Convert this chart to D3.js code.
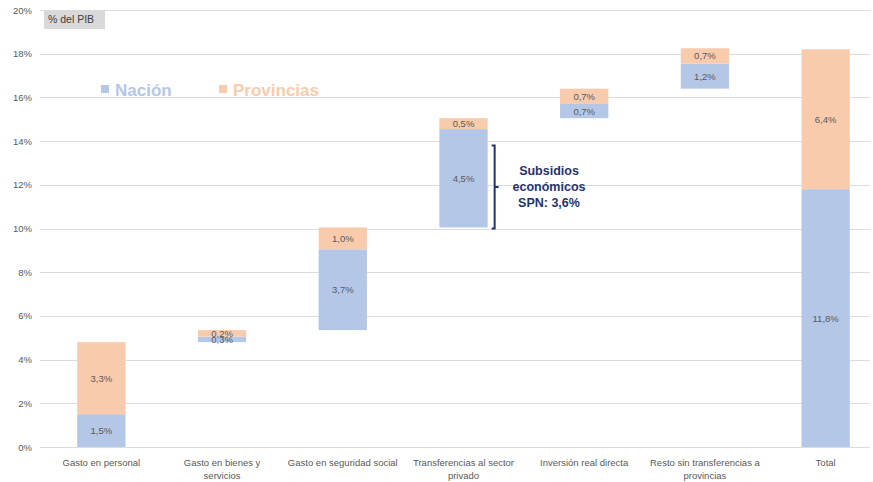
<!DOCTYPE html>
<html>
<head>
<meta charset="utf-8">
<script src="https://cdn.jsdelivr.net/npm/d3@7"></script>
<style>
  body { margin: 0; background: #fff; }
  text { font-family: "Liberation Sans", Arial, sans-serif; }
</style>
</head>
<body>
<svg id="chart" width="873" height="482"></svg>
<script>
// categories, tick lines and series values (% del PIB)
var categories = ["Gasto en personal", "Gasto en bienes y servicios", "Gasto en seguridad social",
  "Transferencias al sector privado", "Inversión real directa",
  "Resto sin transferencias a provincias", "Total"];
var categoryLines = [["Gasto en personal"], ["Gasto en bienes y", "servicios"], ["Gasto en seguridad social"],
  ["Transferencias al sector", "privado"], ["Inversión real directa"],
  ["Resto sin transferencias a", "provincias"], ["Total"]];
var nacion = [1.5, 0.25, 3.7, 4.5, 0.65, 1.15, 11.8];
var provincias = [3.3, 0.3, 1.0, 0.5, 0.7, 0.7, 6.4];
var nacionLabels = ["1,5%", "0,3%", "3,7%", "4,5%", "0,7%", "1,2%", "11,8%"];
var provLabels = ["3,3%", "0,2%", "1,0%", "0,5%", "0,7%", "0,7%", "6,4%"];
var yTicks = [0, 2, 4, 6, 8, 10, 12, 14, 16, 18, 20];
var isTotal = [false, false, false, false, false, false, true];

var svg = d3.select("#chart");
var blue = "#b4c7e7", orange = "#f8cbad", txt = "#595959";

var x = d3.scaleBand().domain(categories).range([41, 886]).paddingInner(0.6).paddingOuter(0.3);
var y = d3.scaleLinear().domain([0, 20]).range([447, 10]);

// waterfall bases
var rows = [];
var run = 0;
categories.forEach(function(c, i) {
  var base = isTotal[i] ? 0 : run;
  rows.push({ cat: c, base: base, n: nacion[i], p: provincias[i], nl: nacionLabels[i], pl: provLabels[i] });
  if (!isTotal[i]) run += nacion[i] + provincias[i];
});

// gridlines
svg.append("g").selectAll("line").data(yTicks).join("line")
  .attr("x1", 40).attr("x2", 870)
  .attr("y1", function(d) { return Math.round(y(d)) + 0.5; })
  .attr("y2", function(d) { return Math.round(y(d)) + 0.5; })
  .attr("stroke", "#dcdcdc").attr("stroke-width", 1.2);

// y axis labels
svg.append("g").selectAll("text").data(yTicks).join("text")
  .attr("x", 32).attr("y", function(d) { return y(d) + 3.5; })
  .attr("text-anchor", "end").attr("font-size", 9.5).attr("fill", txt)
  .text(function(d) { return d + "%"; });

// bars
var g = svg.append("g");
g.selectAll("rect.n").data(rows).join("rect").attr("class", "n")
  .attr("x", function(d) { return x(d.cat); }).attr("width", x.bandwidth())
  .attr("y", function(d) { return y(d.base + d.n); })
  .attr("height", function(d) { return y(d.base) - y(d.base + d.n); })
  .attr("fill", blue);
g.selectAll("rect.p").data(rows).join("rect").attr("class", "p")
  .attr("x", function(d) { return x(d.cat); }).attr("width", x.bandwidth())
  .attr("y", function(d) { return y(d.base + d.n + d.p); })
  .attr("height", function(d) { return y(d.base + d.n) - y(d.base + d.n + d.p); })
  .attr("fill", orange);

// value labels
g.selectAll("text.nl").data(rows).join("text").attr("class", "nl")
  .attr("x", function(d) { return x(d.cat) + x.bandwidth() / 2; })
  .attr("y", function(d) { return y(d.base + d.n / 2) + 3.5; })
  .attr("text-anchor", "middle").attr("font-size", 9.5).attr("fill", txt)
  .text(function(d) { return d.nl; });
g.selectAll("text.pl").data(rows).join("text").attr("class", "pl")
  .attr("x", function(d) { return x(d.cat) + x.bandwidth() / 2; })
  .attr("y", function(d) { return y(d.base + d.n + d.p / 2) + 3.5; })
  .attr("text-anchor", "middle").attr("font-size", 9.5).attr("fill", txt)
  .text(function(d) { return d.pl; });

// category labels
var cl = svg.append("g").selectAll("text").data(categories).join("text")
  .attr("x", function(d) { return x(d) + x.bandwidth() / 2; })
  .attr("y", 466).attr("text-anchor", "middle").attr("font-size", 9.5).attr("fill", txt);
cl.selectAll("tspan").data(function(d, i) { return categoryLines[i]; }).join("tspan")
  .attr("x", function() { return d3.select(this.parentNode).attr("x"); })
  .attr("dy", function(d, i) { return i === 0 ? 0 : 13; })
  .text(function(d) { return d; });

// "% del PIB" box
svg.append("rect").attr("x", 44).attr("y", 10).attr("width", 61).attr("height", 19).attr("fill", "#d9d9d9");
svg.append("text").attr("x", 48).attr("y", 23).attr("font-size", 10.5).attr("fill", "#404040").text("% del PIB");

// legend
var legend = [{ name: "Nación", color: blue, x: 101 }, { name: "Provincias", color: orange, x: 219 }];
var lg = svg.append("g").selectAll("g").data(legend).join("g");
lg.append("rect").attr("x", function(d) { return d.x; }).attr("y", 85).attr("width", 8).attr("height", 8)
  .attr("fill", function(d) { return d.color; });
lg.append("text").attr("x", function(d) { return d.x + 14; }).attr("y", 96)
  .attr("font-size", 17).attr("font-weight", "bold").attr("fill", function(d) { return d.color; })
  .text(function(d) { return d.name; });

// bracket annotation for Transferencias
var bx = x(categories[3]) + x.bandwidth() + 7;
var yTop = y(13.8), yBot = y(10.0), yMid = (yTop + yBot) / 2;
svg.append("path")
  .attr("d", "M" + (bx - 3) + "," + yTop + " L" + bx + "," + yTop + " L" + bx + "," + yBot + " L" + (bx - 3) + "," + yBot
    + " M" + bx + "," + yMid + " L" + (bx + 4) + "," + yMid)
  .attr("fill", "none").attr("stroke", "#1f3470").attr("stroke-width", 2);
var ann = svg.append("text").attr("x", 549).attr("y", 175).attr("text-anchor", "middle")
  .attr("font-size", 12.5).attr("font-weight", "bold").attr("fill", "#1f3470");
["Subsidios", "económicos", "SPN: 3,6%"].forEach(function(t, i) {
  ann.append("tspan").attr("x", 549).attr("dy", i === 0 ? 0 : 16).text(t);
});
</script>
</body>
</html>
